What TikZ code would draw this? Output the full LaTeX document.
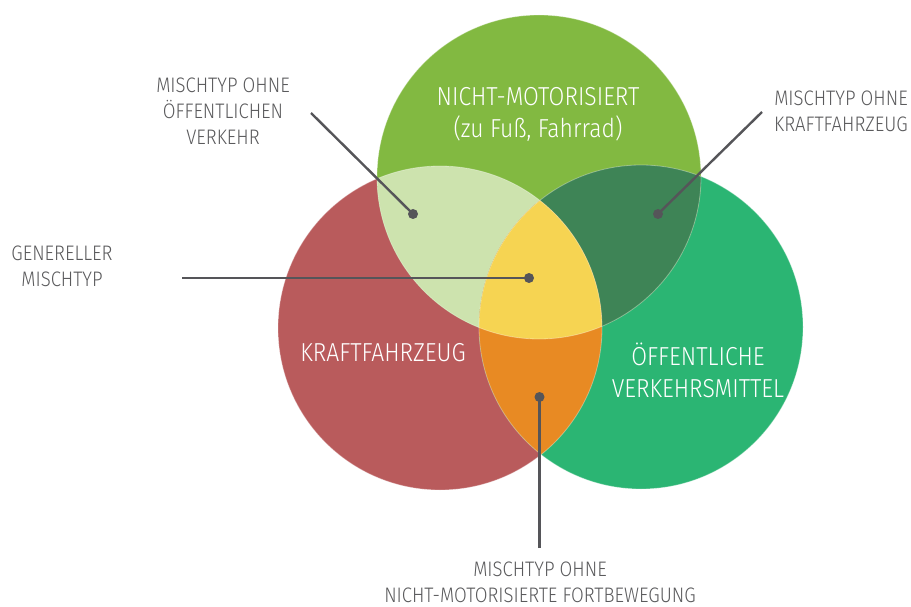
\documentclass[tikz,border=0pt]{standalone}
\usepackage{fontspec}
\setmainfont{Fira Sans Light}[FakeStretch=0.88]
\definecolor{topg}{HTML}{82B941}
\definecolor{redc}{HTML}{B95B5C}
\definecolor{rightg}{HTML}{2BB573}
\definecolor{lightg}{HTML}{CDE3AE}
\definecolor{darkg}{HTML}{3E8456}
\definecolor{orangec}{HTML}{E88A23}
\definecolor{yellowc}{HTML}{F6D452}
\definecolor{labgray}{HTML}{5A5A5C}
\definecolor{linegray}{HTML}{555559}
\tikzset{
  lab/.style={text=labgray, align=center, font=\fontsize{21}{26}\selectfont, inner sep=0pt},
  big/.style={text=white, align=center, font=\fontsize{26}{32}\selectfont, inner sep=0pt},
  dot/.style={circle, fill=linegray, minimum size=10pt, inner sep=0pt},
  lead/.style={draw=linegray, line width=2.4pt},
  seam/.style={draw=white, opacity=0.35, line width=0.8pt}
}
\begin{document}
\begin{tikzpicture}[x=1pt,y=-1pt]
\useasboundingbox (0,0) rectangle (911,607);
\fill[white] (0,0) rectangle (911,607);
\coordinate (cT) at (539,177);
\coordinate (cL) at (440,328);
\coordinate (cR) at (641,327);
\fill[redc] (cL) circle[radius=162pt];
\fill[rightg] (cR) circle[radius=162pt];
\fill[topg] (cT) circle[radius=162pt];
\begin{scope}
  \clip (cT) circle[radius=162pt];
  \fill[lightg] (cL) circle[radius=162pt];
  \fill[darkg] (cR) circle[radius=162pt];
\end{scope}
\begin{scope}
  \clip (cL) circle[radius=162pt];
  \fill[orangec] (cR) circle[radius=162pt];
  \clip (cR) circle[radius=162pt];
  \fill[yellowc] (cT) circle[radius=162pt];
\end{scope}
\path[seam] (cL) circle[radius=162pt];
\path[seam] (cR) circle[radius=162pt];
\path[seam] (cT) circle[radius=162pt];

\node[big] (t1) at (538,114) {NICHT-MOTORISIERT\\(zu Fuß, Fahrrad)};
\node[big] (t2) at (383,353) {KRAFTFAHRZEUG};
\node[big] (t3) at (698,370) {ÖFFENTLICHE\\VERKEHRSMITTEL};

\node[lab] (l1) at (223,111) {MISCHTYP OHNE\\ÖFFENTLICHEN\\VERKEHR};
\node[lab] (l2) at (62,266) {GENERELLER\\MISCHTYP};
\node[lab] (l3) at (841,111) {MISCHTYP OHNE\\KRAFTFAHRZEUG};
\node[lab] (l4) at (540,582) {MISCHTYP OHNE\\NICHT-MOTORISIERTE FORTBEWEGUNG};

\coordinate (e1) at (311,113);
\coordinate (e2) at (182,278);
\coordinate (e3) at (762,112);
\coordinate (e4) at (539.5,548);
\node[dot] (d1) at (413,214) {};
\node[dot] (d2) at (529,278) {};
\node[dot] (d3) at (658,214) {};
\node[dot] (d4) at (539.5,397) {};
\draw[lead] (e1) -- (d1.center);
\draw[lead] (e2) -- (d2.center);
\draw[lead] (e3) -- (d3.center);
\draw[lead] (e4) -- (d4.center);
\end{tikzpicture}
\end{document}
